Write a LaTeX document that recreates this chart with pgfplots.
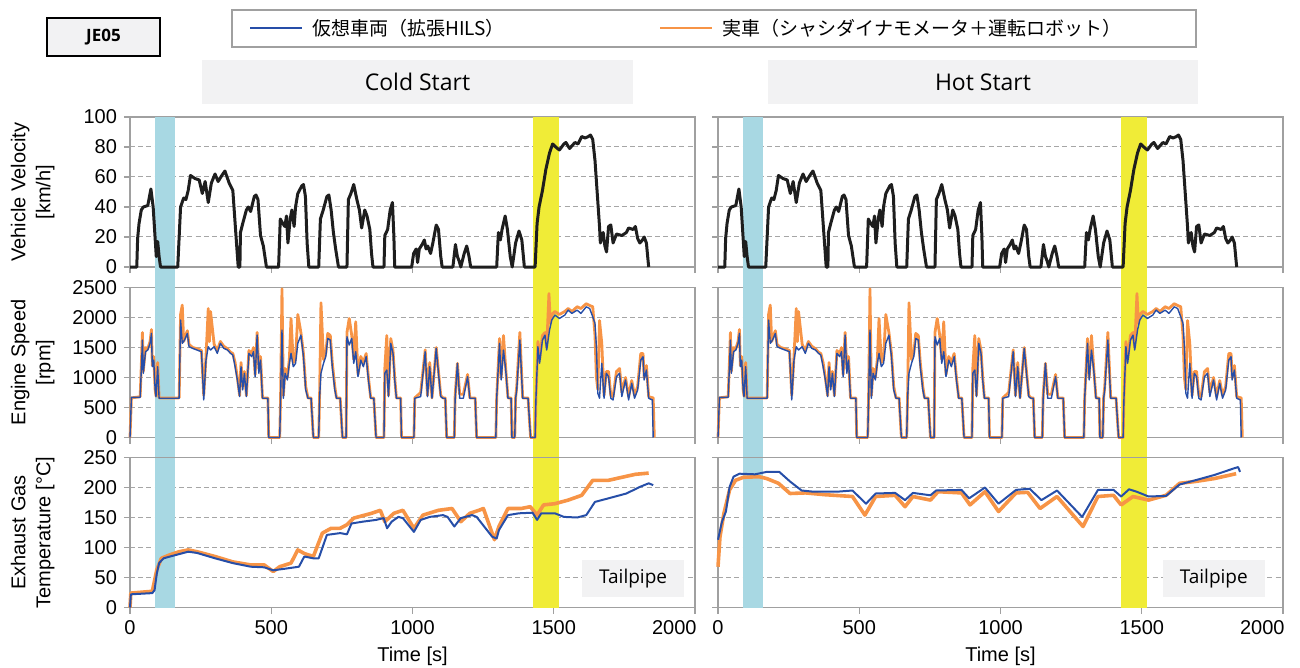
\documentclass[border=0pt]{standalone}
\usepackage{fontspec}
\setmainfont{Liberation Sans}
\newfontfamily\osans{Open Sans}
\newfontfamily\jp{Noto Sans CJK JP}
\usepackage{pgfplots}
\usepackage{pgfplotstable}
\pgfplotsset{compat=1.18}

\definecolor{vblack}{HTML}{1E1E1E}
\definecolor{vblue}{HTML}{264EA8}
\definecolor{vorange}{HTML}{F79446}
\definecolor{bandblue}{HTML}{A8D8E3}
\definecolor{bandyellow}{HTML}{F0EC37}
\definecolor{gridgray}{HTML}{A6A6A6}
\definecolor{axgray}{HTML}{A0A0A0}
\definecolor{boxgray}{HTML}{F2F2F3}

\pgfplotstableread{
t v
0 0
24 0
27 19
32 29
40 38
47 40
63 41
73 51
74 52
82 40
90 16
93 7
98 17
103 7
108 0
169 0
174 20
179 40
190 46
198 45
206 51
214 61
230 59
245 58
256 49
266 57
277 43
288 56
301 62
312 57
325 61
336 64
351 56
364 51
377 16
383 0
389 0
391 23
399 29
412 38
419 40
427 37
440 47
446 48
453 45
462 21
472 14
483 0
526 0
532 32
541 29
548 27
554 34
559 16
567 32
573 38
581 27
586 40
594 49
608 54
614 55
621 47
627 16
633 0
668 0
674 32
684 38
697 47
704 48
712 38
720 23
728 12
738 0
768 0
773 45
782 49
792 55
803 45
812 38
820 26
831 38
839 34
849 25
855 9
860 0
899 0
902 21
912 25
921 38
929 43
934 21
937 0
997 0
1004 9
1013 12
1018 3
1024 12
1034 15
1042 18
1048 12
1054 14
1064 9
1072 16
1084 28
1092 25
1100 7
1105 0
1143 0
1152 15
1159 7
1165 4
1171 0
1183 9
1192 14
1200 7
1206 0
1298 0
1304 23
1311 18
1317 25
1328 34
1336 25
1346 7
1353 0
1365 16
1377 24
1387 18
1396 0
1434 0
1441 29
1448 40
1460 51
1472 65
1485 76
1496 82
1507 80
1520 78
1536 82
1543 83
1556 79
1575 83
1586 82
1599 87
1611 86
1623 87
1630 88
1638 85
1646 71
1654 49
1662 27
1665 16
1675 23
1681 14
1687 10
1694 27
1702 28
1710 16
1722 22
1741 21
1757 23
1765 26
1781 25
1789 27
1797 19
1805 16
1814 18
1820 20
1828 16
1836 0
}\vel

\pgfplotstableread{
t n
0 0
5 670
36 670
40 1125
44 1624
47 1070
55 1430
63 1458
71 1569
76 1735
79 1180
84 1290
89 793
92 680
98 1180
103 654
174 654
179 1957
185 1569
193 1624
203 1735
209 1513
222 1486
237 1458
253 1430
261 626
269 1290
277 1513
285 1458
298 1513
309 1402
320 1569
332 1486
345 1458
356 1402
364 1375
372 1180
380 959
388 682
393 1180
399 793
405 1070
412 682
421 1402
431 1347
437 1430
443 1014
450 1707
456 1070
462 1290
469 654
488 654
491 0
530 0
533 654
538 1790
543 654
549 1070
557 959
564 1236
570 1402
578 1180
586 1236
594 1569
605 1707
614 1347
622 793
630 654
641 654
649 0
668 0
671 654
676 1070
685 1236
693 1347
700 1652
709 1624
716 1180
725 793
731 654
744 654
752 0
765 0
768 1680
776 1541
785 1652
792 1236
799 1430
807 1014
817 1290
826 1180
836 1347
844 959
852 654
863 654
871 0
899 0
902 1070
909 1125
915 682
923 1569
931 1402
937 959
943 654
958 654
961 0
1005 0
1008 654
1029 682
1045 1430
1053 682
1061 1180
1069 654
1084 1486
1092 1070
1100 682
1108 654
1116 654
1121 0
1148 0
1151 654
1159 1236
1167 654
1180 654
1195 1014
1203 654
1222 654
1227 0
1295 0
1298 654
1308 1569
1314 959
1322 1458
1330 1125
1338 654
1349 654
1352 0
1362 0
1365 654
1369 793
1380 1624
1390 654
1409 654
1418 0
1434 0
1437 654
1444 1513
1450 1236
1460 1624
1469 1707
1475 1458
1485 1790
1493 1957
1504 2040
1520 1984
1539 2040
1551 2123
1564 2068
1583 2123
1596 2068
1615 2178
1627 2150
1638 2012
1646 1901
1651 1513
1656 737
1662 654
1670 1236
1678 654
1686 1070
1694 1014
1702 654
1710 626
1722 1014
1733 1070
1741 682
1754 959
1765 626
1776 904
1786 654
1797 793
1808 1290
1816 1347
1820 959
1828 1125
1836 654
1849 626
1852 0
}\engblue

\pgfplotstableread{
t n
0 0
5 660
36 680
40 1200
44 1750
47 1100
55 1500
63 1480
71 1600
76 1800
79 1200
84 1350
89 800
92 690
98 1250
103 660
174 660
179 2050
185 2206
190 1600
193 1650
203 1780
209 1550
222 1500
237 1480
253 1450
261 700
269 1350
277 2150
281 1600
285 2100
298 1550
309 1450
320 1600
332 1520
345 1480
356 1420
364 1400
372 1250
380 1000
388 700
393 1250
399 850
405 1100
412 700
421 1450
431 1400
437 1500
443 1050
450 1750
456 1150
462 1350
469 660
488 660
491 0
530 0
533 660
538 2480
543 700
549 1150
557 1000
564 1300
570 1984
578 1250
586 1300
594 2050
605 1750
614 1400
622 850
630 660
641 660
649 0
668 0
671 660
676 2245
685 1300
693 1400
700 1735
709 1700
716 1250
725 850
731 660
744 660
752 0
765 0
768 1750
776 1984
785 1700
792 1300
799 1929
807 1050
817 1350
826 1250
836 1400
844 1000
852 660
863 660
871 0
899 0
902 1150
909 1700
915 700
923 1650
931 1450
937 1000
943 660
958 660
961 0
1005 0
1008 660
1029 750
1045 1460
1053 700
1061 1250
1069 660
1084 1500
1092 1100
1100 700
1108 660
1116 660
1121 0
1148 0
1151 700
1159 1236
1167 720
1180 720
1195 1050
1203 660
1222 660
1227 0
1295 0
1298 660
1308 1650
1314 1000
1322 1700
1330 1150
1338 660
1349 660
1352 0
1362 0
1365 660
1369 850
1380 1750
1390 660
1409 660
1418 0
1434 0
1437 660
1444 1600
1450 1300
1460 1700
1469 1750
1475 1500
1483 2400
1488 1900
1493 2050
1504 2100
1520 2050
1539 2100
1551 2150
1564 2100
1583 2180
1596 2150
1615 2230
1627 2200
1638 2180
1646 1700
1651 1000
1656 800
1662 1950
1670 1569
1678 700
1686 1100
1694 1100
1702 700
1710 680
1722 1100
1733 1150
1741 750
1754 1000
1765 680
1776 950
1786 700
1797 850
1808 1400
1816 1400
1820 1000
1828 1200
1836 680
1852 660
1856 0
}\engorange

\pgfplotstableread{
t T
0 0
3 22
79 24
87 29
95 57
103 74
119 82
142 85
166 88
206 93
237 91
301 82
364 74
427 68
475 67
507 62
554 65
598 68
617 85
649 82
668 82
697 121
744 124
768 122
784 140
823 143
871 146
898 149
910 132
926 143
950 151
966 149
1005 126
1029 146
1061 151
1108 154
1124 151
1148 135
1171 149
1211 154
1227 151
1282 118
1298 115
1306 129
1338 154
1377 157
1425 158
1441 146
1456 157
1504 157
1536 151
1583 150
1615 154
1646 176
1694 182
1757 190
1805 201
1836 207
1852 204
}\coldblue

\pgfplotstableread{
t T
0 0
3 24
79 27
95 63
111 82
142 88
174 93
206 96
237 93
301 85
364 76
427 71
475 71
507 60
530 68
570 74
594 96
617 90
649 85
681 124
712 132
744 132
768 138
792 149
855 157
886 162
902 143
934 157
966 162
1005 132
1037 154
1092 162
1140 165
1171 143
1203 157
1235 162
1251 165
1290 113
1306 135
1338 165
1385 165
1417 168
1441 154
1464 171
1504 173
1551 179
1599 187
1638 212
1694 212
1741 217
1789 222
1836 224
}\coldorange

\pgfplotstableread{
t T
0 113
14 143
28 160
41 201
55 218
76 223
131 222
172 226
217 226
255 210
296 195
338 193
421 193
476 195
524 173
558 190
627 191
662 179
690 191
752 187
772 195
862 196
889 182
945 200
993 173
1055 196
1103 198
1145 179
1200 195
1289 151
1345 196
1400 196
1427 185
1455 197
1482 193
1524 185
1586 186
1634 205
1689 212
1758 221
1827 232
1841 234
1848 226
}\hotblue

\pgfplotstableread{
t T
0 68
7 118
21 157
41 196
62 212
90 217
145 218
172 215
214 207
255 190
310 191
379 188
476 185
520 154
558 185
627 187
662 168
690 185
752 179
779 193
862 191
892 171
945 193
993 160
1055 191
1096 192
1140 165
1200 185
1292 135
1345 185
1400 187
1427 171
1469 185
1524 179
1586 187
1634 207
1689 210
1758 215
1834 223
}\hotorange

\pgfplotsset{
  base/.style={
    scale only axis, width=282.5pt, height=75pt,
    anchor=north west,
    xmin=0, xmax=2000, xtick={0,500,1000,1500},
    extra x ticks={2000},
    extra x tick style={xticklabel style={anchor=north east, xshift=4.3pt}},
    tick align=outside, tick pos=left, major tick length=3pt,
    axis line style={draw=axgray, line width=0.8pt},
    every tick/.style={draw=axgray, line width=0.6pt},
    ymajorgrids,
    major grid style={draw=gridgray, dash pattern=on 2.5pt off 1.6pt, line width=0.5pt},
    clip=false,
    scaled ticks=false,
    ticklabel style={font=\fontsize{10}{12}\selectfont},
    /pgf/number format/assume math mode=true,
    /pgf/number format/1000 sep={},
    label style={font=\fontsize{10}{12.5}\selectfont},
    ylabel style={align=center, at={(axis description cs:-0.172,0.5)}, anchor=center},
    xlabel style={at={(axis description cs:0.5,0)}, anchor=center, yshift=-24.5pt},
    every axis plot/.append style={line join=round},
  },
  velax/.style={base, ymin=0, ymax=100, ytick={0,20,...,100}, xticklabels={}, extra x tick labels={}},
  engax/.style={base, ymin=0, ymax=2500, ytick={0,500,...,2500}, xticklabels={}, extra x tick labels={}},
  exhax/.style={base, ymin=0, ymax=250, ytick={0,50,...,250}, xlabel={Time [s]}},
  noyl/.style={yticklabels={}},
}

\newcommand{\bands}[3]{%
  \fill[bandblue] ([yshift=-#1]axis cs:87,0) rectangle (axis cs:161,#2);
  \fill[bandyellow] ([yshift=-#1]axis cs:1426,0) rectangle (axis cs:1518,#2);
}

\begin{document}
\begin{tikzpicture}
\useasboundingbox (0,0) rectangle (650pt,-334pt);

% header
\fill[boxgray] (23.5pt,-9pt) rectangle (80pt,-28pt);
\draw[black, line width=1.2pt] (23.5pt,-9pt) rectangle (80pt,-28pt);
\node[font=\osans\bfseries\fontsize{8.5}{10}\selectfont] at (51.75pt,-18.5pt) {JE05};

\draw[axgray, line width=0.6pt] (116pt,-5pt) rectangle (598pt,-23.5pt);
\draw[vblue, line width=1.2pt] (125pt,-14pt) -- (151pt,-14pt);
\node[anchor=west, inner sep=0pt, font=\jp\fontsize{9.5}{11}\selectfont] at (156pt,-14pt) {仮想車両（拡張HILS）};
\draw[vorange, line width=1.2pt] (330pt,-14pt) -- (356pt,-14pt);
\node[anchor=west, inner sep=0pt, font=\jp\fontsize{9.5}{11}\selectfont] at (361pt,-14pt) {実車（シャシダイナモメータ＋運転ロボット）};

\fill[boxgray] (101pt,-30pt) rectangle (316.5pt,-52pt);
\node[font=\osans\fontsize{11.5}{13}\selectfont] at (208.75pt,-41pt) {Cold Start};
\fill[boxgray] (384pt,-30pt) rectangle (599pt,-52pt);
\node[font=\osans\fontsize{11.5}{13}\selectfont] at (491.5pt,-41pt) {Hot Start};

% ---------- left column (cold) ----------
\begin{axis}[velax, at={(65pt,-58.5pt)}, ylabel={Vehicle Velocity\\{[km/h]}}]
\bands{10.3pt}{100}{}
\addplot[vblack, line width=1.5pt] table[x=t, y=v] {\vel};
\end{axis}

\begin{axis}[engax, at={(65pt,-143.75pt)}, ylabel={Engine Speed\\{[rpm]}}]
\bands{10pt}{2500}{}
\addplot[vorange, line width=1.4pt] table[x=t, y=n] {\engorange};
\addplot[vblue, line width=0.7pt] table[x=t, y=n] {\engblue};
\end{axis}

\begin{axis}[exhax, at={(65pt,-228.75pt)}, ylabel={Exhaust Gas\\Temperature [°C]}]
\bands{0pt}{250}{}
\addplot[vorange, line width=1.8pt] table[x=t, y=T] {\coldorange};
\addplot[vblue, line width=1.0pt] table[x=t, y=T] {\coldblue};
\fill[boxgray] (axis cs:1600,17) rectangle (axis cs:1962,79);
\node[font=\osans\fontsize{9.5}{11}\selectfont] at (axis cs:1781,48) {Tailpipe};
\end{axis}

% ---------- right column (hot) ----------
\begin{axis}[velax, noyl, at={(359pt,-58.5pt)}]
\bands{10.3pt}{100}{}
\addplot[vblack, line width=1.5pt] table[x=t, y=v] {\vel};
\end{axis}

\begin{axis}[engax, noyl, at={(359pt,-143.75pt)}]
\bands{10pt}{2500}{}
\addplot[vorange, line width=1.4pt] table[x=t, y=n] {\engorange};
\addplot[vblue, line width=0.7pt] table[x=t, y=n] {\engblue};
\end{axis}

\begin{axis}[exhax, noyl, at={(359pt,-228.75pt)}]
\bands{0pt}{250}{}
\addplot[vorange, line width=1.8pt] table[x=t, y=T] {\hotorange};
\addplot[vblue, line width=1.0pt] table[x=t, y=T] {\hotblue};
\fill[boxgray] (axis cs:1575,17) rectangle (axis cs:1936,79);
\node[font=\osans\fontsize{9.5}{11}\selectfont] at (axis cs:1755,48) {Tailpipe};
\end{axis}
\end{tikzpicture}
\end{document}
